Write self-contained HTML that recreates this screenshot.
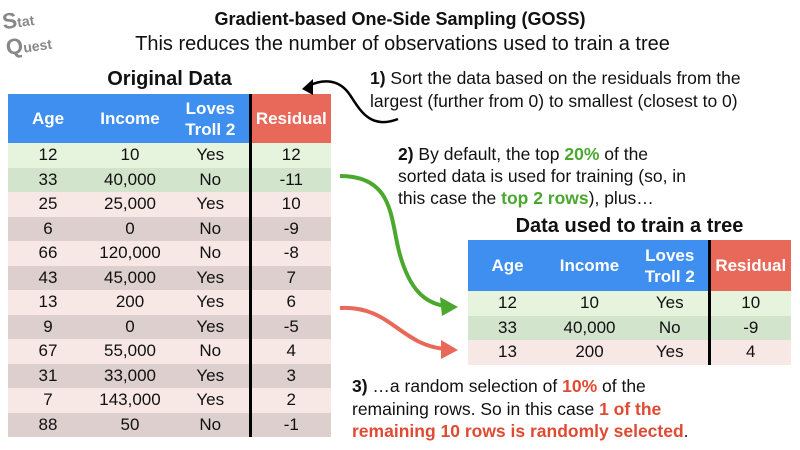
<!DOCTYPE html>
<html><head><meta charset="utf-8">
<style>
body{margin:0;width:800px;height:450px;background:#fff;position:relative;overflow:hidden;font-family:"Liberation Sans",Arial,sans-serif;color:#111}
.t{position:absolute;white-space:nowrap}
table{position:absolute;border-collapse:collapse;table-layout:fixed}
td,th{padding:0;text-align:center;font-size:17px}
th{color:#fff;font-weight:bold;background:#3f8ff0;font-size:17px;line-height:21px}
th.res{background:#e8685a}
td.sep,th.sep{border-left:3px solid #000}
.g1 td{background:#e6f3dd}.g2 td{background:#d2e4cc}
.p1 td{background:#f7e8e6}.p2 td{background:#ddcfce}
b.gr{color:#4aa82f}b.rd{color:#e04a33}
</style></head><body>
<div class="t" style="left:4px;top:6px;font-size:22px;font-weight:bold;color:#888;transform:rotate(-8deg)">S<span style="font-size:14px">tat</span><br>Q<span style="font-size:14px">uest</span></div>
<div class="t" style="left:0;width:800px;text-align:center;top:9px;font-size:18px;font-weight:bold">Gradient-based One-Side Sampling (GOSS)</div>
<div class="t" style="left:0;width:805px;text-align:center;top:33px;font-size:20px">This reduces the number of observations used to train a tree</div>
<div class="t" style="left:8px;width:323px;text-align:center;top:68px;font-size:20px;font-weight:bold">Original Data</div>

<table style="left:8px;top:94px;width:323px">
<colgroup><col style="width:80px"><col style="width:84px"><col style="width:78px"><col style="width:81px"></colgroup>
<tr style="height:49px"><th>Age</th><th>Income</th><th>Loves<br>Troll 2</th><th class="sep res">Residual</th></tr>
<tr class="g1" style="height:24.5px"><td>12</td><td>10</td><td>Yes</td><td class="sep">12</td></tr>
<tr class="g2" style="height:24.5px"><td>33</td><td>40,000</td><td>No</td><td class="sep">-11</td></tr>
<tr class="p1" style="height:24.5px"><td>25</td><td>25,000</td><td>Yes</td><td class="sep">10</td></tr>
<tr class="p2" style="height:24.5px"><td>6</td><td>0</td><td>No</td><td class="sep">-9</td></tr>
<tr class="p1" style="height:24.5px"><td>66</td><td>120,000</td><td>No</td><td class="sep">-8</td></tr>
<tr class="p2" style="height:24.5px"><td>43</td><td>45,000</td><td>Yes</td><td class="sep">7</td></tr>
<tr class="p1" style="height:24.5px"><td>13</td><td>200</td><td>Yes</td><td class="sep">6</td></tr>
<tr class="p2" style="height:24.5px"><td>9</td><td>0</td><td>Yes</td><td class="sep">-5</td></tr>
<tr class="p1" style="height:24.5px"><td>67</td><td>55,000</td><td>No</td><td class="sep">4</td></tr>
<tr class="p2" style="height:24.5px"><td>31</td><td>33,000</td><td>Yes</td><td class="sep">3</td></tr>
<tr class="p1" style="height:24.5px"><td>7</td><td>143,000</td><td>Yes</td><td class="sep">2</td></tr>
<tr class="p2" style="height:24.5px"><td>88</td><td>50</td><td>No</td><td class="sep">-1</td></tr>
</table>

<div class="t" style="left:370px;top:67px;font-size:17.5px;line-height:23px"><b>1)</b> Sort the data based on the residuals from the<br>largest (further from 0) to smallest (closest to 0)</div>
<div class="t" style="left:398px;top:143px;font-size:17.5px;line-height:22px"><b>2)</b> By default, the top <b class="gr">20%</b> of the<br>sorted data is used for training (so, in<br>this case the <b class="gr">top 2 rows</b>), plus…</div>
<div class="t" style="left:468px;width:323px;text-align:center;top:215px;font-size:20px;font-weight:bold">Data used to train a tree</div>

<table style="left:468px;top:240px;width:323px">
<colgroup><col style="width:79px"><col style="width:85px"><col style="width:77px"><col style="width:82px"></colgroup>
<tr style="height:51px"><th>Age</th><th>Income</th><th>Loves<br>Troll 2</th><th class="sep res">Residual</th></tr>
<tr class="g1" style="height:24.5px"><td>12</td><td>10</td><td>Yes</td><td class="sep">10</td></tr>
<tr class="g2" style="height:24.5px"><td>33</td><td>40,000</td><td>No</td><td class="sep">-9</td></tr>
<tr class="p1" style="height:24.5px"><td>13</td><td>200</td><td>Yes</td><td class="sep">4</td></tr>
</table>

<div class="t" style="left:352px;top:375px;font-size:17.5px;line-height:22.5px"><b>3)</b> …a random selection of <b class="rd">10%</b> of the<br>remaining rows. So in this case <b class="rd">1 of the<br>remaining 10 rows is randomly selected</b>.</div>

<svg width="800" height="450" style="position:absolute;left:0;top:0">
<path d="M398,119 C370,130 360,110 350,95 C340,80 325,78 308,86" fill="none" stroke="#000" stroke-width="2.5"/>
<path d="M302,89 L313,79 L313,95 Z" fill="#000"/>
<path d="M340,176 C395,176 390,220 400,255 C410,290 425,303 445,306" fill="none" stroke="#4aa82f" stroke-width="4"/>
<path d="M458,307 L440,297 L442,316 Z" fill="#4aa82f"/>
<path d="M340,308 C390,305 400,345 445,349" fill="none" stroke="#e8685a" stroke-width="4"/>
<path d="M458,350 L441,340 L441,359 Z" fill="#e8685a"/>
</svg>
</body></html>
